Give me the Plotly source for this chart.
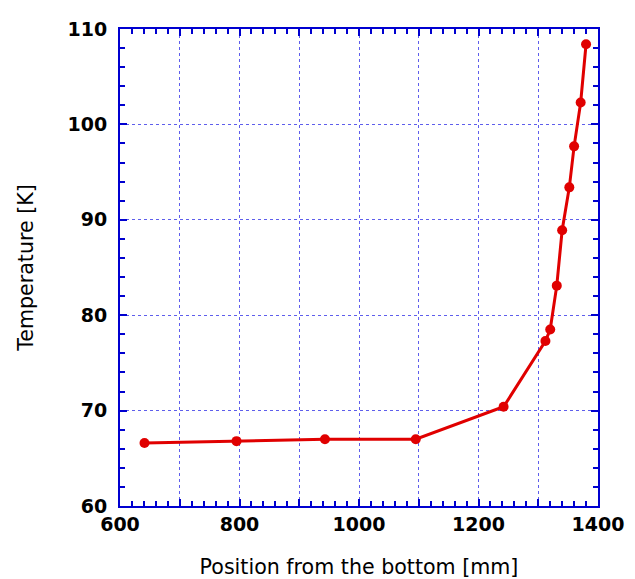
import plotly.graph_objects as go

position_mm = [641, 795, 943, 1095, 1242, 1312, 1320, 1331, 1340, 1352, 1360, 1371, 1380]
temperature_k = [66.6, 66.8, 67.0, 67.0, 70.4, 77.3, 78.5, 83.1, 88.9, 93.4, 97.7, 102.3, 108.4]

x_tickvals = [600, 700, 800, 900, 1000, 1100, 1200, 1300, 1400]
x_ticktext = ["600", "", "800", "", "1000", "", "1200", "", "1400"]
y_tickvals = [60, 70, 80, 90, 100, 110]
y_ticktext = ["60", "70", "80", "90", "100", "110"]

FONT = "DejaVu Sans"
AXIS_BLUE = "#0000d0"
GRID_BLUE = "rgba(40,40,230,0.75)"
TICK_FONT = dict(family=FONT, size=19, color="black", weight="bold")
TITLE_FONT = dict(family=FONT, size=20.6, color="black")

fig = go.Figure()
fig.add_trace(go.Scatter(
    x=position_mm, y=temperature_k, mode="lines+markers",
    line=dict(color="#e00000", width=3),
    marker=dict(color="#e00000", size=10, symbol="circle"),
    showlegend=False,
))

# page body adds an 8px margin, so the figure is offset by 8px in the window
fig.update_layout(
    width=619, height=571,
    margin=dict(l=112, r=29, t=21, b=73),
    paper_bgcolor="white", plot_bgcolor="white",
    font=dict(family=FONT, size=20, color="black"),
)

fig.update_xaxes(
    range=[600, 1400], tickmode="array", tickvals=x_tickvals, ticktext=x_ticktext,
    ticks="inside", ticklen=7, tickwidth=1.5, tickcolor=AXIS_BLUE,
    showline=True, linecolor=AXIS_BLUE, linewidth=2, mirror="ticks",
    showgrid=True, gridcolor=GRID_BLUE, griddash="dot", gridwidth=1,
    zeroline=False, ticklabelstandoff=0, automargin=False,
    tickfont=TICK_FONT,
    minor=dict(dtick=20, ticks="inside", ticklen=5, tickwidth=1.5, tickcolor=AXIS_BLUE, showgrid=False),
    title=dict(text="Position from the bottom [mm]", font=TITLE_FONT, standoff=30),
)
fig.update_yaxes(
    range=[60, 110], tickmode="array", tickvals=y_tickvals, ticktext=y_ticktext,
    ticks="inside", ticklen=7, tickwidth=1.5, tickcolor=AXIS_BLUE,
    showline=True, linecolor=AXIS_BLUE, linewidth=2, mirror="ticks",
    showgrid=True, gridcolor=GRID_BLUE, griddash="dot", gridwidth=1,
    zeroline=False, ticklabelstandoff=7, automargin=False,
    tickfont=TICK_FONT,
    minor=dict(dtick=2, ticks="inside", ticklen=5, tickwidth=1.5, tickcolor=AXIS_BLUE, showgrid=False),
    title=dict(text="Temperature [K]", font=TITLE_FONT, standoff=28),
)

fig.write_html("out.html")
